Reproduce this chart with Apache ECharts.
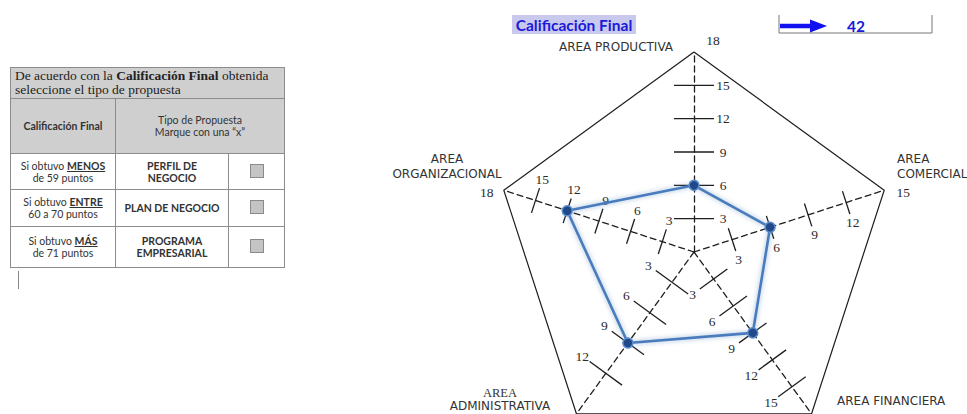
<!DOCTYPE html>
<html lang="es">
<head>
<meta charset="utf-8">
<title>Calificación Final</title>
<script src="https://cdn.jsdelivr.net/npm/echarts@6/dist/echarts.min.js"></script>
<style>
  html, body { margin: 0; padding: 0; background: #fff; }
  #chart { position: absolute; left: 0; top: 0; width: 967px; height: 414px; }
  table.prop {
    position: absolute; left: 10px; top: 67px;
    border-collapse: collapse; table-layout: fixed;
    width: 274px; color: #333;
    font-family: Lato, "Open Sans", sans-serif; font-size: 10.5px;
  }
  table.prop td { border: 1px solid #8c8c8c; text-align: center; vertical-align: middle; padding: 0; }
  table.prop tr.head td { background: #cfcfcf; }
  table.prop td.intro {
    text-align: left; font-family: "Liberation Serif", serif; font-size: 13.5px;
    line-height: 14px; padding: 1px 4px; color: #222; height: 28px;
  }
  table.prop b u { text-decoration-thickness: 1px; text-underline-offset: 1px; }
  .box { display: inline-block; width: 12px; height: 12px; background: #c4c4c4; border: 1px solid #8a8a8a; }
  .caret { position: absolute; left: 18px; top: 271px; width: 1px; height: 18px; background: #888; }
</style>
</head>
<body>
<div id="chart"></div>

<table class="prop">
  <colgroup><col style="width:105px"><col style="width:113px"><col style="width:56px"></colgroup>
  <tr class="head"><td class="intro" colspan="3"><span>De acuerdo con la </span><b>Calificación Final</b><span> obtenida</span><br><span>seleccione el tipo de propuesta</span></td></tr>
  <tr class="head" style="height:55px"><td><b>Calificación Final</b></td><td colspan="2">Tipo de Propuesta<br>Marque con una “x”</td></tr>
  <tr style="height:36px"><td>Si obtuvo <b><u>MENOS</u></b><br>de 59 puntos</td><td><b>PERFIL DE<br>NEGOCIO</b></td><td><span class="box"></span></td></tr>
  <tr style="height:37px"><td>Si obtuvo <b><u>ENTRE</u></b><br>60 a 70 puntos</td><td><b>PLAN DE NEGOCIO</b></td><td><span class="box"></span></td></tr>
  <tr style="height:41px"><td>Si obtuvo <b><u>MÁS</u></b><br>de 71 puntos</td><td><b>PROGRAMA<br>EMPRESARIAL</b></td><td><span class="box"></span></td></tr>
</table>
<div class="caret"></div>

<script>
// Radar axes, listed counter-clockwise from the top (ECharts radar order)
const areaNames = ['AREA PRODUCTIVA', 'AREA ORGANIZACIONAL', 'AREA ADMINISTRATIVA', 'AREA FINANCIERA', 'AREA COMERCIAL'];
const areaMax = [18, 18, 16, 18, 15];
const areaScores = [6, 12, 9, 9, 6];
// Graduation marks along each axis
const areaTicks = [
  [3, 6, 9, 12, 15],
  [3, 6, 9, 12, 15],
  [3, 6, 9, 12],
  [3, 6, 9, 12, 15],
  [3, 6, 9, 12]
];
// Which axes print their maximum at the outer corner
const showMaxLabel = [true, true, false, false, true];

// Drawing styles
const TICK_HALF = [20, 13, 20, 17, 12];
const INK = '#1e1e1e';
const SERIF = '"Liberation Serif", "Times New Roman", serif';
const SANS = '"DejaVu Sans", Verdana, sans-serif';
const BLUE = '#1a1ad8';

const chart = echarts.init(document.getElementById('chart'), null, { renderer: 'svg' });

chart.setOption({
  animation: false,
  radar: {
    center: [694, 252],
    radius: 200,
    startAngle: 90,
    shape: 'polygon',
    splitNumber: 1,
    axisName: { show: false },
    axisLine: { lineStyle: { color: INK, width: 1.3, type: [6, 4] } },
    splitLine: { lineStyle: { color: INK, width: 1.2 } },
    splitArea: { show: false },
    axisTick: { show: false },
    axisLabel: { show: false },
    indicator: areaNames.map((n, i) => ({ name: n, min: 0, max: areaMax[i] }))
  },
  series: [{
    type: 'radar',
    z: 3,
    symbol: 'circle',
    symbolSize: 10,
    data: [{ value: areaScores, name: 'Calificación' }],
    lineStyle: { color: '#4a7cbc', width: 2.6, shadowColor: 'rgba(79,129,189,0.6)', shadowBlur: 5 },
    itemStyle: { color: '#21498a', borderColor: '#5b8ccb', borderWidth: 1.5 }
  }]
});

// Graduations and labels are placed through the radar's own value-to-pixel mapping
const radarCS = chart.getModel().getComponent('radar', 0).coordinateSystem;
const pt = (v, i) => radarCS.dataToPoint(v, i);

const labelStyle = { font: '13.5px ' + SERIF, fill: '#2a2a2a', align: 'center', verticalAlign: 'middle' };
const elements = [];
areaNames.forEach((name, i) => {
  const o = pt(0, i), e = pt(areaMax[i], i);
  const len = Math.hypot(e[0] - o[0], e[1] - o[1]);
  const d = [(e[0] - o[0]) / len, (e[1] - o[1]) / len];
  const n = [-d[1], d[0]];
  const h = TICK_HALF[i];
  areaTicks[i].forEach(v => {
    const p = pt(v, i);
    elements.push({
      type: 'line', z: 1, silent: true,
      shape: { x1: p[0] - n[0] * h, y1: p[1] - n[1] * h, x2: p[0] + n[0] * h, y2: p[1] + n[1] * h },
      style: { stroke: INK, lineWidth: 1.3 }
    });
    elements.push({
      type: 'text', z: 1, silent: true,
      x: p[0] + n[0] * (h + 9), y: p[1] + n[1] * (h + 9),
      style: Object.assign({ text: String(v) }, labelStyle)
    });
  });
});

// Maximum printed next to the outer corners
const cornerOffset = [[19, -12], [-17, 2], [0, 0], [0, 0], [19, 2]];
areaNames.forEach((name, i) => {
  if (!showMaxLabel[i]) return;
  const e = pt(areaMax[i], i);
  elements.push({
    type: 'text', z: 1, silent: true, x: e[0] + cornerOffset[i][0], y: e[1] + cornerOffset[i][1],
    style: Object.assign({ text: String(areaMax[i]) }, labelStyle)
  });
});

// Axis names
const nameStyle = { font: '12px ' + SANS, fill: '#333', verticalAlign: 'middle', lineHeight: 15 };
elements.push(
  { type: 'text', x: 616, y: 47, style: Object.assign({ text: 'AREA PRODUCTIVA', align: 'center' }, nameStyle) },
  { type: 'text', x: 447, y: 166, style: Object.assign({ text: 'AREA\nORGANIZACIONAL', align: 'center' }, nameStyle) },
  { type: 'text', x: 897, y: 166, style: Object.assign({ text: 'AREA\nCOMERCIAL', align: 'left' }, nameStyle) },
  { type: 'text', x: 837, y: 401, style: Object.assign({ text: 'AREA FINANCIERA', align: 'left' }, nameStyle) },
  { type: 'text', x: 500, y: 393, style: { text: 'AREA', font: '12.5px ' + SERIF, fill: '#333', align: 'center', verticalAlign: 'middle' } },
  { type: 'text', x: 500, y: 406, style: Object.assign({ text: 'ADMINISTRATIVA', align: 'center' }, nameStyle) }
);

// Heading with highlighted background and the total score box
const total = areaScores.reduce((a, b) => a + b, 0);
elements.push(
  { type: 'rect', shape: { x: 512, y: 15, width: 124, height: 19 }, style: { fill: '#c9c9ee' } },
  { type: 'text', x: 574, y: 25, style: { text: 'Calificación Final', font: 'bold 15.5px Lato, "Open Sans", sans-serif', fill: BLUE, align: 'center', verticalAlign: 'middle' } },
  { type: 'polyline', shape: { points: [[779, 15], [779, 33], [932, 33], [932, 15]] }, style: { stroke: '#777', lineWidth: 1, fill: null } },
  { type: 'line', shape: { x1: 780, y1: 26, x2: 812, y2: 26 }, style: { stroke: '#1010f0', lineWidth: 4.5 } },
  { type: 'polygon', shape: { points: [[810, 19.5], [827, 26], [810, 32.5]] }, style: { fill: '#1010f0' } },
  { type: 'text', x: 856, y: 26, style: { text: String(total), font: 'bold 15.5px Lato, "Open Sans", sans-serif', fill: BLUE, align: 'center', verticalAlign: 'middle' } }
);

chart.setOption({ graphic: { elements: elements } });
</script>
</body>
</html>
